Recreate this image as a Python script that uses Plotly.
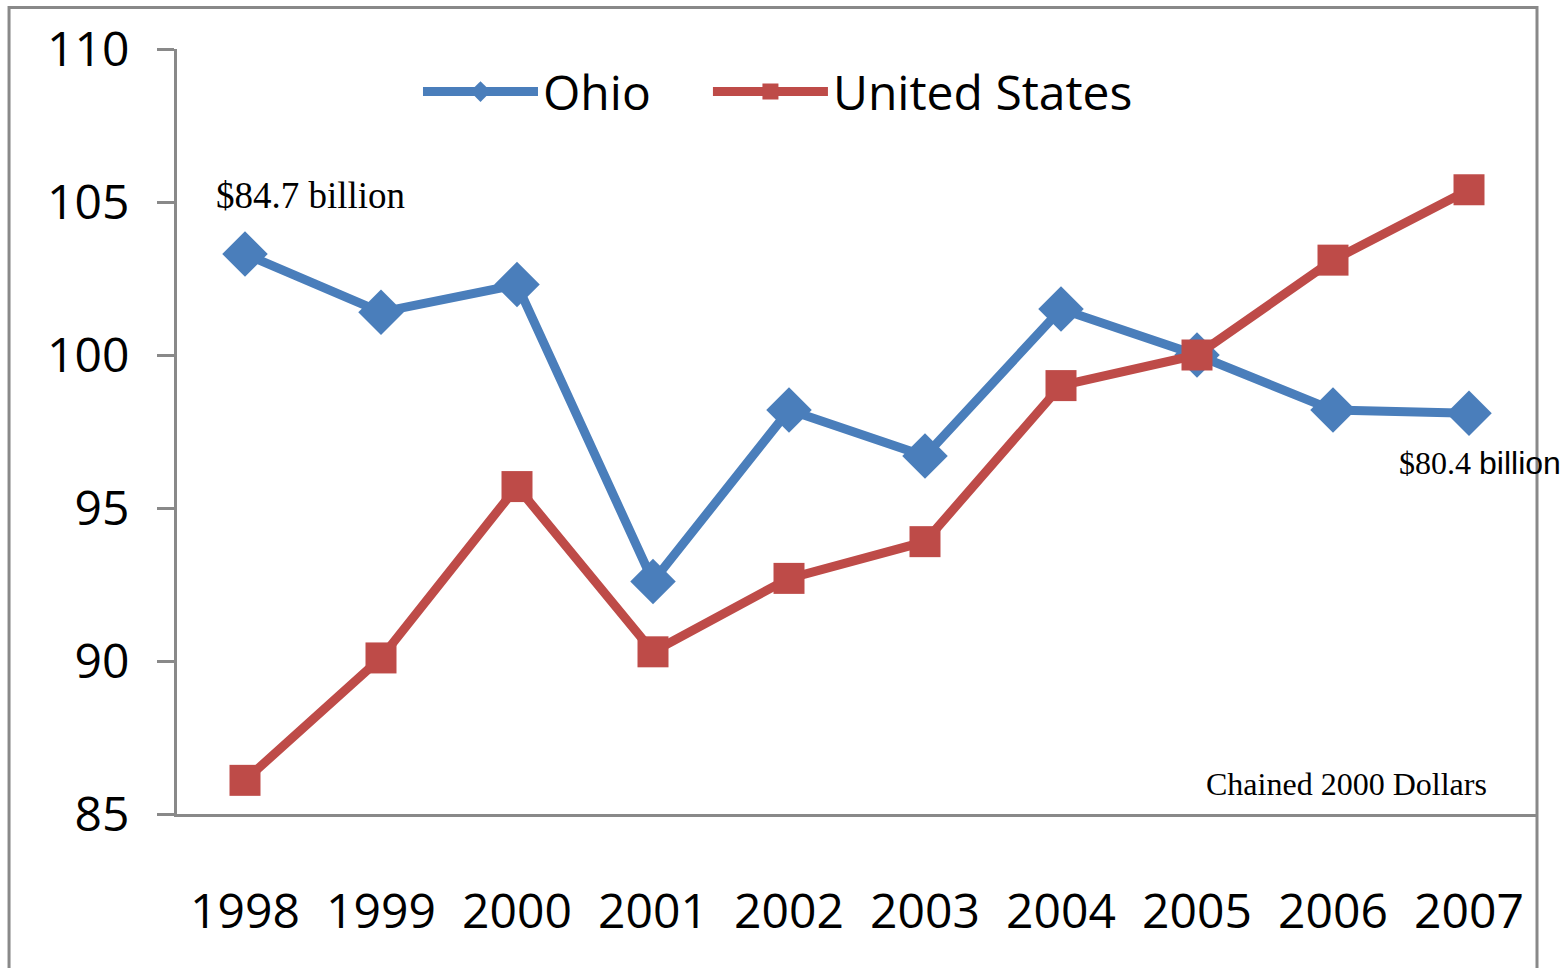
import plotly.graph_objects as go

years = ["1998", "1999", "2000", "2001", "2002", "2003", "2004", "2005", "2006", "2007"]
ohio = [103.3, 101.4, 102.3, 92.6, 98.2, 96.7, 101.5, 100.0, 98.2, 98.1]
us = [86.1, 90.1, 95.7, 90.3, 92.7, 93.9, 99.0, 100.0, 103.1, 105.4]
y_ticks = [85, 90, 95, 100, 105, 110]

BLUE = "#4A7EBB"
RED = "#BE4B48"
GRAY = "#898989"
SANS = "Open Sans"
SERIF = "Liberation Serif"

fig = go.Figure()
fig.add_trace(go.Scatter(
    x=years, y=ohio, name="Ohio", mode="lines+markers",
    line=dict(color=BLUE, width=9),
    marker=dict(symbol="diamond", size=35, color=BLUE),
    legend="legend",
))
fig.add_trace(go.Scatter(
    x=years, y=us, name="United States", mode="lines+markers",
    line=dict(color=RED, width=9),
    marker=dict(symbol="square", size=31, color=RED),
    legend="legend2",
))

legend_style = dict(
    orientation="h", y=0.944, xanchor="left", yanchor="middle",
    font=dict(family=SANS, size=48), bgcolor="rgba(0,0,0,0)",
    itemwidth=115,
)

fig.update_layout(
    width=1568, height=968,
    margin=dict(l=177, r=31, t=49, b=154),
    paper_bgcolor="white", plot_bgcolor="white",
    font=dict(family=SANS, size=48, color="black"),
    showlegend=True,
    legend=dict(x=0.1772, **legend_style),
    legend2=dict(x=0.3904, **legend_style),
    xaxis=dict(
        type="category", range=[-0.5, 9.5],
        showline=True, linecolor=GRAY, linewidth=3,
        ticks="", showgrid=False, zeroline=False,
        ticklabelstandoff=53,
        tickfont=dict(family=SANS, size=48),
    ),
    yaxis=dict(
        range=[85, 110], tickvals=y_ticks,
        showline=True, linecolor=GRAY, linewidth=3,
        ticks="outside", ticklen=17, tickwidth=3, tickcolor=GRAY,
        showgrid=False, zeroline=False,
        ticklabelstandoff=18,
        tickfont=dict(family=SANS, size=48),
    ),
    shapes=[dict(
        type="rect", xref="paper", yref="paper",
        x0=-0.1235, x1=1.0, y0=-0.4, y1=1.0542,
        line=dict(color=GRAY, width=3), fillcolor="rgba(0,0,0,0)", layer="below",
    )],
    annotations=[
        dict(x=0.48, y=105.2, xref="x", yref="y", text="$84.7 billion",
             showarrow=False, font=dict(family=SERIF, size=37, color="black")),
        dict(x=9.08, y=96.47, xref="x", yref="y",
             text="$80.4 <span style='font-family:Liberation Sans'>billion</span>",
             showarrow=False, font=dict(family=SERIF, size=32, color="black")),
        dict(x=8.1, y=85.98, xref="x", yref="y", text="Chained 2000 Dollars",
             showarrow=False, font=dict(family=SERIF, size=32, color="black")),
    ],
)

fig.write_html("out.html", config={"displayModeBar": False},
               post_script="document.body.style.margin='0';")
